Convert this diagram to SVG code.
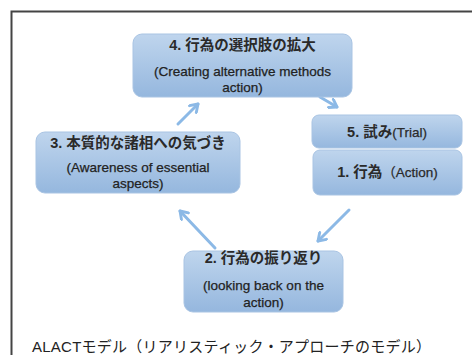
<svg xmlns="http://www.w3.org/2000/svg" width="472" height="355" viewBox="0 0 472 355">
<defs>
<linearGradient id="g" x1="0" y1="0" x2="0" y2="1">
<stop offset="0" stop-color="#bfd5ed"/>
<stop offset="1" stop-color="#95b7de"/>
</linearGradient>
<marker id="ah" viewBox="0 0 10 10" refX="7.5" refY="5" markerWidth="4" markerHeight="4" orient="auto" markerUnits="strokeWidth">
<path d="M1.5,1 L7.5,5 L1.5,9" fill="none" stroke="#8cb9e6" stroke-width="2.4" stroke-linecap="round" stroke-linejoin="round"/>
</marker>
</defs>
<style>
.box{fill:url(#g);stroke:#a9c4e3;stroke-width:1}
.t{font-family:"Liberation Sans","Noto Sans CJK JP",sans-serif;font-size:14.5px;font-weight:bold;fill:#2a2a2a;text-anchor:middle}
.e{font-family:"Liberation Sans","Noto Sans CJK JP",sans-serif;font-size:13.5px;fill:#222;stroke:#222;stroke-width:0.25;text-anchor:middle}
.n{font-weight:normal;font-size:13.5px;stroke:#2a2a2a;stroke-width:0.25}
.arr{fill:none;stroke:#8cb9e6;stroke-width:3;stroke-linecap:round;marker-end:url(#ah)}
.cap{font-family:"Liberation Sans","Noto Sans CJK JP",sans-serif;font-size:15px;fill:#222;letter-spacing:0.25px}
</style>
<rect x="0" y="0" width="472" height="355" fill="#fff"/>
<path d="M11.5,360 L11.5,11.5 L480,11.5" fill="none" stroke="#444" stroke-width="2"/>
<g id="connectors">
<line class="arr" x1="178" y1="124" x2="198" y2="104"/>
<line class="arr" x1="320" y1="97" x2="337" y2="107"/>
<line class="arr" x1="349" y1="210" x2="318" y2="241"/>
<line class="arr" x1="215" y1="248" x2="180" y2="211"/>
</g>
<g id="node4">
<rect class="box" x="133" y="34" width="219" height="63" rx="9"/>
<text class="t" x="242.5" y="50">4. 行為の選択肢の拡大</text>
<text class="e" x="242.5" y="75.5">(Creating alternative methods</text>
<text class="e" x="242.5" y="91.5">action)</text>
</g>
<g id="node3">
<rect class="box" x="36" y="132" width="204" height="61" rx="9"/>
<text class="t" x="138" y="148">3. 本質的な諸相への気づき</text>
<text class="e" x="138" y="171.5">(Awareness of essential</text>
<text class="e" x="138" y="187.5">aspects)</text>
</g>
<g id="node5">
<rect class="box" x="312" y="115" width="150" height="33" rx="7"/>
<text class="t" x="387" y="137">5. 試み<tspan class="n">(Trial)</tspan></text>
</g>
<g id="node1">
<rect class="box" x="313" y="150" width="149" height="45" rx="7"/>
<text class="t" x="387.5" y="177">1. 行為<tspan class="n">（Action)</tspan></text>
</g>
<g id="node2">
<rect class="box" x="184" y="251" width="159" height="61" rx="9"/>
<text class="t" x="263.5" y="263">2. 行為の振り返り</text>
<text class="e" x="263.5" y="289.5">(looking back on the</text>
<text class="e" x="263.5" y="306.5">action)</text>
</g>
<text class="cap" x="32" y="352">ALACTモデル（リアリスティック・アプローチのモデル）</text>
</svg>
